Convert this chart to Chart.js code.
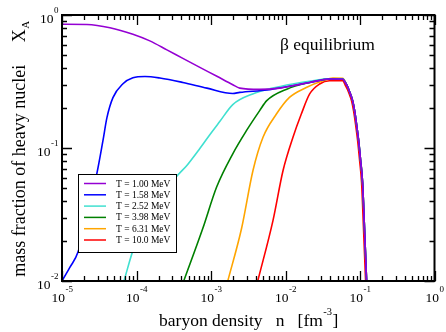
<!DOCTYPE html>
<html>
<head>
<meta charset="utf-8">
<script src="https://cdn.jsdelivr.net/npm/chart.js@4.4.0/dist/chart.umd.min.js"></script>
<style>
  html, body { margin: 0; padding: 0; background: #fff; }
</style>
</head>
<body>
<canvas id="chart" width="446" height="332"></canvas>
<script>
// mass fraction of heavy nuclei vs baryon density, one curve per temperature
const labels = ['T = 1.00 MeV', 'T = 1.58 MeV', 'T = 2.52 MeV', 'T = 3.98 MeV', 'T = 6.31 MeV', 'T = 10.0 MeV'];
const colors = ['#9400d3', '#0000ff', '#40e0d0', '#008000', '#ffa500', '#ff0000'];

const nT1 = [1e-5, 2.16e-5, 4.4e-5, 8.95e-5, 1.51e-4, 2.56e-4, 4.19e-4, 7.08e-4, 1.2e-3, 1.96e-3, 2.43e-3, 4.5e-3, 8.36e-3, 1.25e-2, 2.11e-2, 3.91e-2, 0.0585, 0.0661, 0.0725, 0.0796, 0.0846, 0.0900, 0.0958, 0.1019, 0.1083, 0.1152, 0.1226];
const xT1 = [0.852, 0.849, 0.803, 0.717, 0.639, 0.547, 0.472, 0.404, 0.346, 0.299, 0.282, 0.276, 0.282, 0.294, 0.311, 0.330, 0.329, 0.299, 0.265, 0.227, 0.191, 0.150, 0.114, 0.0806, 0.0551, 0.0241, 0.0100];

const nT2 = [1e-5, 1.28e-5, 1.64e-5, 2.94e-5, 3.55e-5, 4.01e-5, 4.83e-5, 6.58e-5, 8.95e-5, 1.3e-4, 2.06e-4, 4.19e-4, 8.8e-4, 1.96e-3, 2.43e-3, 5.6e-3, 1.04e-2, 2.11e-2, 3.91e-2, 0.0585, 0.0661, 0.0725, 0.0796, 0.0846, 0.0900, 0.0958, 0.1019, 0.1083, 0.1152, 0.1226];
const xT2 = [0.0100, 0.0127, 0.0165, 0.0644, 0.114, 0.169, 0.239, 0.304, 0.337, 0.345, 0.336, 0.311, 0.282, 0.257, 0.262, 0.273, 0.289, 0.311, 0.330, 0.329, 0.299, 0.265, 0.227, 0.191, 0.150, 0.114, 0.0806, 0.0551, 0.0241, 0.0100];

const nT3 = [6.78e-5, 9.5e-5, 3.27e-4, 4.74e-4, 7.08e-4, 9.64e-4, 1.31e-3, 1.96e-3, 3.63e-3, 6.73e-3, 1.25e-2, 2.32e-2, 3.91e-2, 0.0585, 0.0661, 0.0725, 0.0796, 0.0846, 0.0900, 0.0958, 0.1019, 0.1083, 0.1152, 0.1226];
const xT3 = [0.0100, 0.0186, 0.0588, 0.0739, 0.0992, 0.126, 0.158, 0.212, 0.255, 0.282, 0.303, 0.320, 0.331, 0.330, 0.299, 0.265, 0.227, 0.191, 0.150, 0.114, 0.0806, 0.0551, 0.0241, 0.0100];

const nT4 = [4.31e-4, 7.77e-4, 1.19e-3, 1.96e-3, 2.99e-3, 4.5e-3, 5.6e-3, 1.04e-2, 2.11e-2, 3.91e-2, 0.0585, 0.0661, 0.0725, 0.0796, 0.0846, 0.0900, 0.0958, 0.1019, 0.1083, 0.1152, 0.1226];
const xT4 = [0.0100, 0.0249, 0.0509, 0.0905, 0.135, 0.191, 0.227, 0.277, 0.311, 0.331, 0.330, 0.299, 0.265, 0.227, 0.191, 0.150, 0.114, 0.0806, 0.0551, 0.0241, 0.0100];

const nT5 = [1.68e-3, 2.57e-3, 3.66e-3, 4.99e-3, 7.55e-3, 1.13e-2, 1.9e-2, 3.18e-2, 4.34e-2, 0.0585, 0.0661, 0.0725, 0.0796, 0.0846, 0.0900, 0.0958, 0.1019, 0.1083, 0.1152, 0.1226];
const xT5 = [0.0100, 0.0248, 0.0678, 0.1205, 0.180, 0.240, 0.285, 0.320, 0.335, 0.334, 0.300, 0.265, 0.227, 0.191, 0.150, 0.114, 0.0806, 0.0551, 0.0241, 0.0100];

const nT6 = [4.24e-3, 6.8e-3, 9.27e-3, 1.26e-2, 1.63e-2, 2.11e-2, 2.87e-2, 3.91e-2, 0.0585, 0.0641, 0.0705, 0.0772, 0.0820, 0.0873, 0.0929, 0.0988, 0.1050, 0.1117, 0.1189];
const xT6 = [0.0100, 0.0286, 0.0678, 0.1205, 0.180, 0.255, 0.303, 0.320, 0.320, 0.293, 0.262, 0.225, 0.190, 0.150, 0.114, 0.0806, 0.0551, 0.0241, 0.0100];

const densities = [nT1, nT2, nT3, nT4, nT5, nT6];
const fractions = [xT1, xT2, xT3, xT4, xT5, xT6];

const xDecades = [-5, -4, -3, -2, -1, 0];
const yDecades = [-2, -1, 0];

const SERIF = '"Liberation Serif", "Times New Roman", serif';

// "10" with a raised exponent
function drawPow(ctx, exp, px, baseline, align) {
  ctx.font = '13.5px ' + SERIF;
  const wb = ctx.measureText('10').width;
  ctx.font = '9px ' + SERIF;
  const we = ctx.measureText(String(exp)).width;
  let x0 = align === 'center' ? px - (wb + we) / 2 : px - wb - we;
  ctx.textAlign = 'left';
  ctx.textBaseline = 'alphabetic';
  ctx.font = '13.5px ' + SERIF;
  ctx.fillText('10', x0, baseline);
  ctx.font = '9px ' + SERIF;
  ctx.fillText(String(exp), x0 + wb + 0.5, baseline - 10.5);
}

const framePlugin = {
  id: 'frame',
  afterDatasetsDraw(chart) {
    const { ctx, chartArea: a, scales } = chart;
    const xs = scales.x, ys = scales.y;
    ctx.save();
    ctx.strokeStyle = '#000';
    ctx.fillStyle = '#000';

    // inward ticks on all four sides
    ctx.lineWidth = 1.3;
    ctx.beginPath();
    xDecades.forEach(e => {
      for (let m = 1; m <= 9; m++) {
        if (e === 0 && m > 1) break;
        const px = Math.round(xs.getPixelForValue(m * Math.pow(10, e))) + 0.5;
        const len = m === 1 ? 10 : 5;
        ctx.moveTo(px, a.bottom); ctx.lineTo(px, a.bottom - len);
        ctx.moveTo(px, a.top); ctx.lineTo(px, a.top + len);
      }
    });
    yDecades.forEach(e => {
      for (let m = 1; m <= 9; m++) {
        if (e === 0 && m > 1) break;
        const py = Math.round(ys.getPixelForValue(m * Math.pow(10, e))) + 0.5;
        const len = m === 1 ? 10 : 5;
        ctx.moveTo(a.left, py); ctx.lineTo(a.left + len, py);
        ctx.moveTo(a.right, py); ctx.lineTo(a.right - len, py);
      }
    });
    ctx.stroke();

    ctx.lineWidth = 2;
    ctx.strokeRect(a.left, a.top, a.right - a.left, a.bottom - a.top);

    // tick labels
    xDecades.forEach(e => drawPow(ctx, e, xs.getPixelForValue(Math.pow(10, e)), a.bottom + 21, 'center'));
    yDecades.forEach(e => drawPow(ctx, e, a.left - 4, ys.getPixelForValue(Math.pow(10, e)) + 8, 'right'));

    // legend box
    const lx = 78, ly = 174, lw = 98, lh = 78;
    ctx.fillStyle = '#fff';
    ctx.fillRect(lx, ly, lw, lh);
    ctx.lineWidth = 1;
    ctx.strokeStyle = '#000';
    ctx.strokeRect(lx + 0.5, ly + 0.5, lw, lh);
    chart.data.datasets.forEach((ds, i) => {
      const yy = ly + 9.5 + i * 11.3;
      ctx.strokeStyle = ds.borderColor;
      ctx.lineWidth = 1.5;
      ctx.beginPath();
      ctx.moveTo(lx + 6, yy); ctx.lineTo(lx + 28, yy);
      ctx.stroke();
      ctx.fillStyle = '#000';
      ctx.font = '9.5px ' + SERIF;
      ctx.textAlign = 'left';
      ctx.textBaseline = 'middle';
      ctx.fillText(ds.label, lx + 38, yy + 0.5);
    });

    // annotation
    ctx.fillStyle = '#000';
    ctx.textBaseline = 'alphabetic';
    ctx.textAlign = 'left';
    ctx.font = '17.5px ' + SERIF;
    ctx.fillText('\u03b2 equilibrium', 280, 50);

    // x axis title
    const t1 = 'baryon density   n   [fm';
    ctx.font = '17.5px ' + SERIF;
    const w1 = ctx.measureText(t1).width;
    ctx.font = '10.5px ' + SERIF;
    const w2 = ctx.measureText('-3').width;
    ctx.font = '17.5px ' + SERIF;
    const w3 = ctx.measureText(']').width;
    let sx = (a.left + a.right) / 2 - (w1 + w2 + w3) / 2;
    ctx.fillText(t1, sx, 326);
    ctx.font = '10.5px ' + SERIF;
    ctx.fillText('-3', sx + w1 + 0.5, 315);
    ctx.font = '17.5px ' + SERIF;
    ctx.fillText(']', sx + w1 + w2 + 1, 326);

    // y axis title, rotated
    ctx.save();
    ctx.translate(25, 149);
    ctx.rotate(-Math.PI / 2);
    const s1 = 'mass fraction of heavy nuclei     X';
    ctx.font = '18px ' + SERIF;
    const v1 = ctx.measureText(s1).width;
    ctx.font = '11px ' + SERIF;
    const v2 = ctx.measureText('A').width;
    let sy = -(v1 + v2) / 2;
    ctx.font = '18px ' + SERIF;
    ctx.fillText(s1, sy, 0);
    ctx.font = '11px ' + SERIF;
    ctx.fillText('A', sy + v1 + 0.5, 4);
    ctx.restore();

    ctx.restore();
  }
};

const datasets = labels.map((lab, i) => ({
  label: lab,
  data: densities[i].map((n, k) => ({ x: n, y: fractions[i][k] })),
  borderColor: colors[i],
  backgroundColor: colors[i],
  borderWidth: 1.6,
  pointRadius: 0,
  cubicInterpolationMode: 'monotone',
  fill: false
}));

const ctx = document.getElementById('chart');
const myChart = new Chart(ctx, {
  type: 'line',
  data: { datasets: datasets },
  options: {
    responsive: false,
    animation: false,
    layout: {
      padding: { left: 62, right: 11.5, top: 15, bottom: 51 }
    },
    scales: {
      x: { type: 'logarithmic', min: 1e-5, max: 1, display: false },
      y: { type: 'logarithmic', min: 0.01, max: 1, display: false }
    },
    plugins: {
      legend: { display: false },
      tooltip: { enabled: false },
      title: { display: false }
    }
  },
  plugins: [framePlugin]
});
</script>
</body>
</html>
